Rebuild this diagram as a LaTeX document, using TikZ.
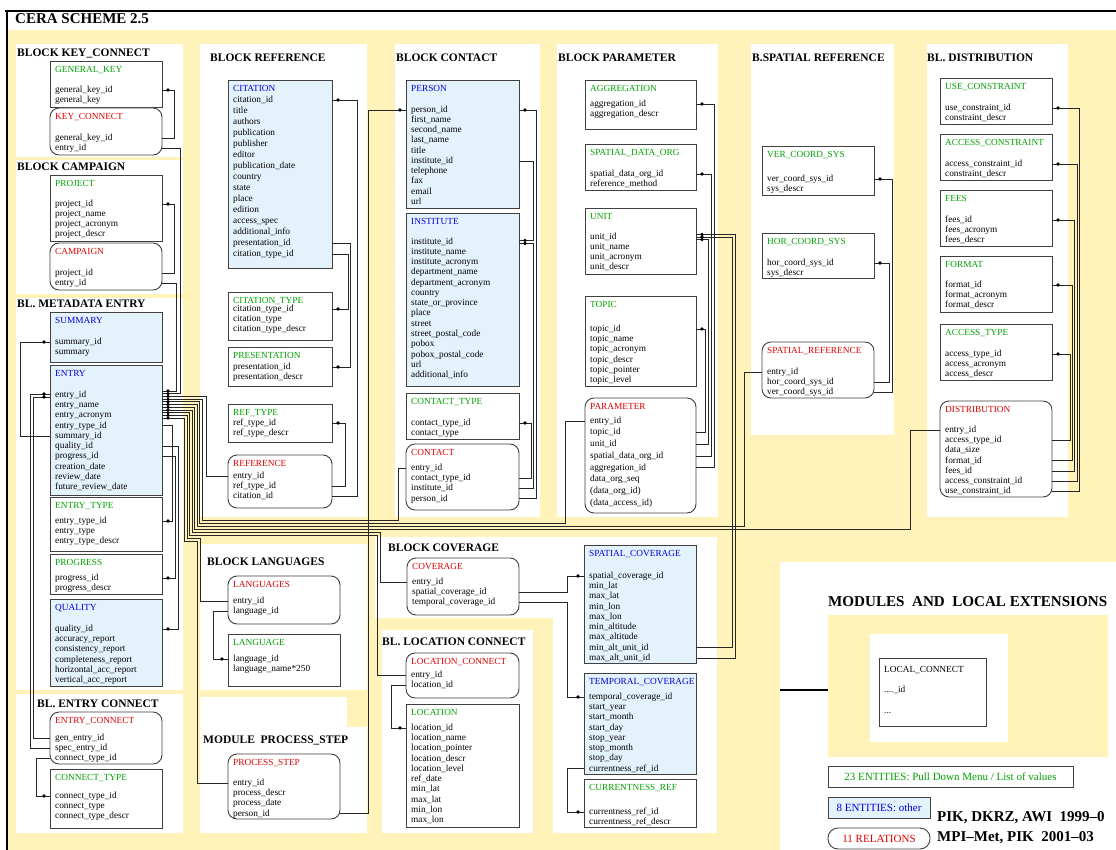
\documentclass[tikz,border=0pt]{standalone}
\usepackage{fontspec}
\setmainfont{Liberation Serif}
\usetikzlibrary{calc,decorations.markings}
\definecolor{lkgreen}{RGB}{0,160,0}
\definecolor{rlred}{RGB}{220,0,0}
\definecolor{otblue}{RGB}{0,0,220}
\definecolor{otfill}{RGB}{228,242,252}
\definecolor{bgyellow}{RGB}{255,243,185}
\tikzset{rel/.style={draw=black!85,line width=0.8pt}}
\tikzset{pk/.style={decoration={markings,mark=at position -6pt with {\fill circle (1.8pt);}},postaction={decorate}}}
\tikzset{lkbox/.style={draw=black!75,line width=0.9pt,fill=white,anchor=north west,inner sep=0pt,outer sep=0pt}}
\tikzset{otbox/.style={lkbox,fill=otfill}}
\tikzset{rlbox/.style={lkbox,rounded corners=9pt}}
\tikzset{field/.style={anchor=west,inner sep=0pt,font=\fontsize{9.3}{10}\selectfont,text height=6.5pt,text depth=2pt}}
\tikzset{lktitle/.style={field,text=lkgreen}}
\tikzset{ottitle/.style={field,text=otblue}}
\tikzset{rltitle/.style={field,text=rlred}}
\tikzset{heading/.style={anchor=west,inner sep=0pt,font=\fontsize{11.5}{12}\selectfont\bfseries}}
\newcommand{\fsep}{10.25}
\newcommand{\entity}[9]{%
  \node[#2box,minimum width={#5pt-#3pt},minimum height={#6pt-#4pt}] (#1) at (#3,#4) {};
  \node[#2title] (#1-t) at ({#3+5},{#4+9}) {#7};
  \foreach \fld [count=\i] in {#9}
    \node[field] (#1-\i) at ({#3+5},{#8+(\i-1)*\fsep}) {\fld};
}

\begin{document}
\begin{tikzpicture}[x=1pt,y=-1pt]
    \useasboundingbox (0,0) rectangle (1116,850);
    \fill[bgyellow] (8,30) rectangle (1116,850);
    \fill[white] (16,44) rectangle (183,157);
    \fill[white] (16,160) rectangle (183,294);
    \fill[white] (16,298) rectangle (183,690);
    \fill[white] (16,694) rectangle (183,833);
    \fill[white] (200,44) rectangle (367,517);
    \fill[white] (395,44) rectangle (540,517);
    \fill[white] (557,44) rectangle (718,517);
    \fill[white] (751,44) rectangle (894,435);
    \fill[white] (927,44) rectangle (1068,517);
    \fill[white] (200,544) rectangle (367,690);
    \fill[white] (200,697) rectangle (347,833);
    \fill[white] (200,727) rectangle (367,833);
    \fill[white] (375,537) rectangle (717,618);
    \fill[white] (553,537) rectangle (717,833);
    \fill[white] (382,630) rectangle (533,833);
    \fill[white] (780,562) rectangle (1116,850);
    \node[fill=bgyellow,anchor=north west,inner sep=0pt,minimum width=280,minimum height=142] (modules) at (828,615) {};
    \fill[white] (870,634) rectangle (1008,742);
    \draw[line width=2.5pt] (5,11) -- (1116,11);
    \draw[line width=2.5pt] (7,11) -- (7,850);

    \node[heading,font=\fontsize{15}{16}\selectfont\bfseries] (title) at (15,19) {CERA SCHEME 2.5};
    \node[heading] (hkey) at (17,53) {BLOCK KEY\_CONNECT};
    \node[heading] (hcamp) at (17,167) {BLOCK CAMPAIGN};
    \node[heading] (hmeta) at (17,304) {BL. METADATA ENTRY};
    \node[heading] (hentc) at (37,704) {BL. ENTRY CONNECT};
    \node[heading] (href) at (210,58) {BLOCK REFERENCE};
    \node[heading] (hcont) at (396,58) {BLOCK CONTACT};
    \node[heading] (hpar) at (558,58) {BLOCK PARAMETER};
    \node[heading] (hspat) at (752,58) {B.SPATIAL REFERENCE};
    \node[heading] (hdist) at (927,58) {BL. DISTRIBUTION};
    \node[heading] (hlang) at (207,562) {BLOCK LANGUAGES};
    \node[heading] (hproc) at (203,740) {MODULE\enspace PROCESS\_STEP};
    \node[heading] (hcov) at (388,548) {BLOCK COVERAGE};
    \node[heading] (hloc) at (382,642) {BL. LOCATION CONNECT};
    \node[heading,font=\fontsize{15.1}{16}\selectfont\bfseries] (hmod) at (828,602) {MODULES\enspace AND\enspace LOCAL EXTENSIONS};

    \entity{genkey}{lk}{50}{61}{162}{107}{GENERAL\_KEY}{90}{general\_key\_id,general\_key}
    \entity{keyconn}{rl}{50}{108}{162}{155}{KEY\_CONNECT}{138}{general\_key\_id,entry\_id}
    \entity{project}{lk}{50}{175}{162}{241}{PROJECT}{204}{project\_id,project\_name,project\_acronym,project\_descr}
    \entity{campaign}{rl}{50}{243}{162}{290}{CAMPAIGN}{273}{project\_id,entry\_id}
    \entity{summary}{ot}{50}{312}{162}{362}{SUMMARY}{342}{summary\_id,summary}
    \entity{entry}{ot}{50}{365}{162}{495}{ENTRY}{395}{entry\_id,entry\_name,entry\_acronym,entry\_type\_id,summary\_id,quality\_id,progress\_id,creation\_date,review\_date,future\_review\_date}
    \entity{entrytype}{lk}{50}{497}{162}{551}{ENTRY\_TYPE}{521}{entry\_type\_id,entry\_type,entry\_type\_descr}
    \entity{progress}{lk}{50}{554}{162}{594}{PROGRESS}{578}{progress\_id,progress\_descr}
    \entity{quality}{ot}{50}{599}{162}{686}{QUALITY}{629}{quality\_id,accuracy\_report,consistency\_report,completeness\_report,horizontal\_acc\_report,vertical\_acc\_report}
    \entity{entryconn}{rl}{50}{712}{162}{764}{ENTRY\_CONNECT}{738}{gen\_entry\_id,spec\_entry\_id,connect\_type\_id}
    \entity{connecttype}{lk}{50}{769}{162}{828}{CONNECT\_TYPE}{796}{connect\_type\_id,connect\_type,connect\_type\_descr}

    \renewcommand{\fsep}{11}
    \entity{citation}{ot}{228}{80}{332}{268}{CITATION}{100}{citation\_id,title,authors,publication,publisher,editor,publication\_date,country,state,place,edition,access\_spec,additional\_info,presentation\_id,citation\_type\_id}
    \renewcommand{\fsep}{10.25}
    \entity{citationtype}{lk}{228}{292}{332}{340}{CITATION\_TYPE}{309}{citation\_type\_id,citation\_type,citation\_type\_descr}
    \entity{presentation}{lk}{228}{347}{332}{386}{PRESENTATION}{367}{presentation\_id,presentation\_descr}
    \entity{reftype}{lk}{228}{404}{332}{442}{REF\_TYPE}{423}{ref\_type\_id,ref\_type\_descr}
    \entity{reference}{rl}{228}{455}{332}{508}{REFERENCE}{476}{entry\_id,ref\_type\_id,citation\_id}
    \entity{languages}{rl}{228}{576}{340}{624}{LANGUAGES}{601}{entry\_id,language\_id}
    \entity{language}{lk}{228}{634}{340}{686}{LANGUAGE}{659}{language\_id,language\_name*250}
    \entity{procstep}{rl}{228}{754}{340}{819}{PROCESS\_STEP}{783}{entry\_id,process\_descr,process\_date,person\_id}

    \entity{person}{ot}{406}{80}{519}{208}{PERSON}{110}{person\_id,first\_name,second\_name,last\_name,title,institute\_id,telephone,fax,email,url}
    \entity{institute}{ot}{406}{213}{519}{386}{INSTITUTE}{242}{institute\_id,institute\_name,institute\_acronym,department\_name,department\_acronym,country,state\_or\_province,place,street,street\_postal\_code,pobox,pobox\_postal\_code,url,additional\_info}
    \entity{contacttype}{lk}{406}{393}{519}{439}{CONTACT\_TYPE}{423}{contact\_type\_id,contact\_type}
    \entity{contact}{rl}{406}{444}{519}{510}{CONTACT}{468}{entry\_id,contact\_type\_id,institute\_id,person\_id}
    \entity{coverage}{rl}{407}{558}{519}{615}{COVERAGE}{582}{entry\_id,spatial\_coverage\_id,temporal\_coverage\_id}
    \entity{locconn}{rl}{406}{653}{519}{698}{LOCATION\_CONNECT}{675}{entry\_id,location\_id}
    \entity{location}{lk}{406}{704}{519}{827}{LOCATION}{728}{location\_id,location\_name,location\_pointer,location\_descr,location\_level,ref\_date,min\_lat,max\_lat,min\_lon,max\_lon}

    \entity{aggregation}{lk}{585}{80}{696}{129}{AGGREGATION}{104}{aggregation\_id,aggregation\_descr}
    \entity{spatialdata}{lk}{585}{144}{696}{190}{SPATIAL\_DATA\_ORG}{174}{spatial\_data\_org\_id,reference\_method}
    \entity{unit}{lk}{585}{208}{696}{274}{UNIT}{237}{unit\_id,unit\_name,unit\_acronym,unit\_descr}
    \entity{topic}{lk}{585}{296}{696}{386}{TOPIC}{329}{topic\_id,topic\_name,topic\_acronym,topic\_descr,topic\_pointer,topic\_level}
    \renewcommand{\fsep}{11.7}
    \entity{parameter}{rl}{585}{398}{696}{513}{PARAMETER}{421}{entry\_id,topic\_id,unit\_id,spatial\_data\_org\_id,aggregation\_id,data\_org\_seq,{(data\_org\_id)},{(data\_access\_id)}}
    \renewcommand{\fsep}{10.25}
    \entity{spatcov}{ot}{584}{545}{696}{663}{SPATIAL\_COVERAGE}{576}{spatial\_coverage\_id,min\_lat,max\_lat,min\_lon,max\_lon,min\_altitude,max\_altitude,min\_alt\_unit\_id,max\_alt\_unit\_id}
    \entity{tempcov}{ot}{584}{673}{696}{774}{TEMPORAL\_COVERAGE}{697}{temporal\_coverage\_id,start\_year,start\_month,start\_day,stop\_year,stop\_month,stop\_day,currentness\_ref\_id}
    \entity{currref}{lk}{584}{779}{696}{827}{CURRENTNESS\_REF}{812}{currentness\_ref\_id,currentness\_ref\_descr}

    \entity{vercoord}{lk}{762}{146}{874}{195}{VER\_COORD\_SYS}{179}{ver\_coord\_sys\_id,sys\_descr}
    \entity{horcoord}{lk}{762}{233}{874}{278}{HOR\_COORD\_SYS}{263}{hor\_coord\_sys\_id,sys\_descr}
    \entity{spatref}{rl}{762}{342}{874}{398}{SPATIAL\_REFERENCE}{372}{entry\_id,hor\_coord\_sys\_id,ver\_coord\_sys\_id}

    \entity{usecons}{lk}{940}{78}{1052}{124}{USE\_CONSTRAINT}{108}{use\_constraint\_id,constraint\_descr}
    \entity{accesscons}{lk}{940}{134}{1052}{180}{ACCESS\_CONSTRAINT}{164}{access\_constraint\_id,constraint\_descr}
    \entity{fees}{lk}{940}{190}{1052}{246}{FEES}{220}{fees\_id,fees\_acronym,fees\_descr}
    \entity{format}{lk}{940}{256}{1052}{312}{FORMAT}{285}{format\_id,format\_acronym,format\_descr}
    \entity{accesstype}{lk}{940}{324}{1052}{380}{ACCESS\_TYPE}{354}{access\_type\_id,access\_acronym,access\_descr}
    \entity{distrib}{rl}{940}{401}{1052}{497}{DISTRIBUTION}{430}{entry\_id,access\_type\_id,data\_size,format\_id,fees\_id,access\_constraint\_id,use\_constraint\_id}

    \draw[rel,pk] (campaign-2 -| campaign.east) -- ++(14,0) |- ($(entry-1 -| entry.east)+(0,-4)$);
    \draw[rel,pk] (keyconn-2 -| keyconn.east) -- ++(18,0) |- ($(entry-1 -| entry.east)+(0,-1.3)$);
    \draw[rel,pk] (reference-1 -| reference.west) -- ++(-22,0) |- ($(entry-1 -| entry.east)+(0,1.4)$);
    \draw[rel,pk] (contact-1 -| contact.west) -- ++(-8,0) |- (202,520) |- ($(entry-1 -| entry.east)+(0,4.1)$);
    \draw[rel,pk] (parameter-1 -| parameter.west) -- ++(-20,0) |- (199.5,523) |- ($(entry-1 -| entry.east)+(0,6.8)$);
    \draw[rel,pk] (spatref-1 -| spatref.west) -- ++(-18,0) |- (197,526) |- ($(entry-1 -| entry.east)+(0,9.5)$);
    \draw[rel,pk] (distrib-1 -| distrib.west) -- ++(-30,0) |- (194.5,529) |- ($(entry-1 -| entry.east)+(0,12.2)$);
    \draw[rel,pk] (coverage-1 -| coverage.west) -- ++(-27,0) |- (192,532) |- ($(entry-1 -| entry.east)+(0,14.9)$);
    \draw[rel,pk] (locconn-1 -| locconn.west) -- ++(-29,0) |- (189.5,535) |- ($(entry-1 -| entry.east)+(0,17.6)$);
    \draw[rel,pk] (languages-1 -| languages.west) -- ++(-28,0) |- (187,538) |- ($(entry-1 -| entry.east)+(0,20.3)$);
    \draw[rel,pk] (procstep-1 -| procstep.west) -- ++(-31,0) |- (184.5,541) |- ($(entry-1 -| entry.east)+(0,23)$);
    \draw[rel,pk] (entryconn-1 -| entryconn.west) -- ++(-17,0) |- ($(entry-1 -| entry.west)+(0,2)$);
    \draw[rel,pk] (entryconn-2 -| entryconn.west) -- ++(-20,0) |- ($(entry-1 -| entry.west)+(0,-1)$);
    \draw[rel,pk] (entryconn-3 -| entryconn.west) -- ++(-14,0) |- (connecttype-1 -| connecttype.west);
    \draw[rel,pk] (entry-5 -| entry.west) -- ++(-30,0) |- (summary-1 -| summary.west);
    \draw[rel,pk] (entry-4 -| entry.east) -- ++(10,0) |- (entrytype-1 -| entrytype.east);
    \draw[rel,pk] (entry-7 -| entry.east) -- ++(13,0) |- (progress-1 -| progress.east);
    \draw[rel,pk] (entry-6 -| entry.east) -- ++(16,0) |- (quality-1 -| quality.east);
    \draw[rel,pk] (keyconn-1 -| keyconn.east) -- ++(12,0) |- (genkey-1 -| genkey.east);
    \draw[rel,pk] (campaign-1 -| campaign.east) -- ++(12,0) |- (project-1 -| project.east);

    \draw[rel,pk] (reference-3 -| reference.east) -- ++(25,0) |- (citation-1 -| citation.east);
    \draw[rel,pk] (reference-2 -| reference.east) -- ++(13,0) |- (reftype-1 -| reftype.east);
    \draw[rel,pk] (citation-14 -| citation.east) -- ++(18,0) |- (presentation-1 -| presentation.east);
    \draw[rel,pk] (citation-15 -| citation.east) -- ++(16,0) |- (citationtype-1 -| citationtype.east);
    \draw[rel,pk] (languages-2 -| languages.west) -- ++(-15,0) |- (language-1 -| language.west);
    \draw[rel,pk] (procstep-4 -| procstep.east) -- ++(28,0) |- (person-1 -| person.west);

    \draw[rel,pk] (contact-4 -| contact.east) -- ++(17,0) |- (person-1 -| person.east);
    \draw[rel,pk] (contact-3 -| contact.east) -- ++(14,0) |- ($(institute-1 -| institute.east)+(0,1.5)$);
    \draw[rel,pk] (person-6 -| person.east) -- ++(14,0) |- ($(institute-1 -| institute.east)+(0,-1.5)$);
    \draw[rel,pk] (contact-2 -| contact.east) -- ++(12,0) |- (contacttype-1 -| contacttype.east);

    \draw[rel,pk] (parameter-2 -| parameter.east) -- ++(9,0) |- (topic-1 -| topic.east);
    \draw[rel,pk] (parameter-3 -| parameter.east) -- ++(12,0) |- ($(unit-1 -| unit.east)+(0,2.5)$);
    \draw[rel,pk] (parameter-4 -| parameter.east) -- ++(15,0) |- (spatialdata-1 -| spatialdata.east);
    \draw[rel,pk] (parameter-5 -| parameter.east) -- ++(18,0) |- (aggregation-1 -| aggregation.east);
    \draw[rel,pk] (spatcov-8 -| spatcov.east) -- ++(36,0) |- (unit-1 -| unit.east);
    \draw[rel,pk] (spatcov-9 -| spatcov.east) -- ++(39,0) |- ($(unit-1 -| unit.east)+(0,-2.5)$);

    \draw[rel,pk] (coverage-2 -| coverage.east) -- ++(48,0) |- (spatcov-1 -| spatcov.west);
    \draw[rel,pk] (coverage-3 -| coverage.east) -- ++(48,0) |- (tempcov-1 -| tempcov.west);
    \draw[rel,pk] (tempcov-8 -| tempcov.west) -- ++(-17,0) |- (currref-1 -| currref.west);
    \draw[rel,pk] (locconn-2 -| locconn.west) -- ++(-15,0) |- (location-1 -| location.west);

    \draw[rel,pk] (spatref-2 -| spatref.east) -- ++(15,0) |- (horcoord-1 -| horcoord.east);
    \draw[rel,pk] (spatref-3 -| spatref.east) -- ++(18,0) |- (vercoord-1 -| vercoord.east);

    \draw[rel,pk] (distrib-2 -| distrib.east) -- ++(18,0) |- (accesstype-1 -| accesstype.east);
    \draw[rel,pk] (distrib-4 -| distrib.east) -- ++(20,0) |- (format-1 -| format.east);
    \draw[rel,pk] (distrib-5 -| distrib.east) -- ++(22,0) |- (fees-1 -| fees.east);
    \draw[rel,pk] (distrib-6 -| distrib.east) -- ++(25,0) |- (accesscons-1 -| accesscons.east);
    \draw[rel,pk] (distrib-7 -| distrib.east) -- ++(27,0) |- (usecons-1 -| usecons.east);

    \node[lkbox,minimum width=107,minimum height=68] (localconn) at (879,658) {};
    \node[field] (localconn-t) at (884,670) {LOCAL\_CONNECT};
    \node[field] (localconn-1) at (884,690) {....\_id};
    \node[field] (localconn-2) at (884,711) {...};
    \coordinate (stub) at (780,690);
    \draw[line width=1.6pt] (stub) -- (stub -| modules.west);

    \node[lkbox,minimum width=245,minimum height=21,text=lkgreen,font=\fontsize{11}{12}\selectfont] (lgdlk) at (828,766) {23 ENTITIES: Pull Down Menu / List of values};
    \node[otbox,minimum width=102,minimum height=21,text=otblue,font=\fontsize{11}{12}\selectfont] (lgdot) at (828,797) {8 ENTITIES: other};
    \node[rlbox,rounded corners=10pt,minimum width=102,minimum height=21,text=rlred,font=\fontsize{11}{12}\selectfont] (lgdrl) at (828,828) {11 RELATIONS};
    \node[heading,font=\fontsize{15}{16}\selectfont\bfseries] (credit1) at (937,818) {PIK, DKRZ, AWI\enspace 1999–0};
    \node[heading,font=\fontsize{15}{16}\selectfont\bfseries] (credit2) at (937,838) {MPI–Met, PIK\enspace 2001–03};
\end{tikzpicture}
\end{document}
